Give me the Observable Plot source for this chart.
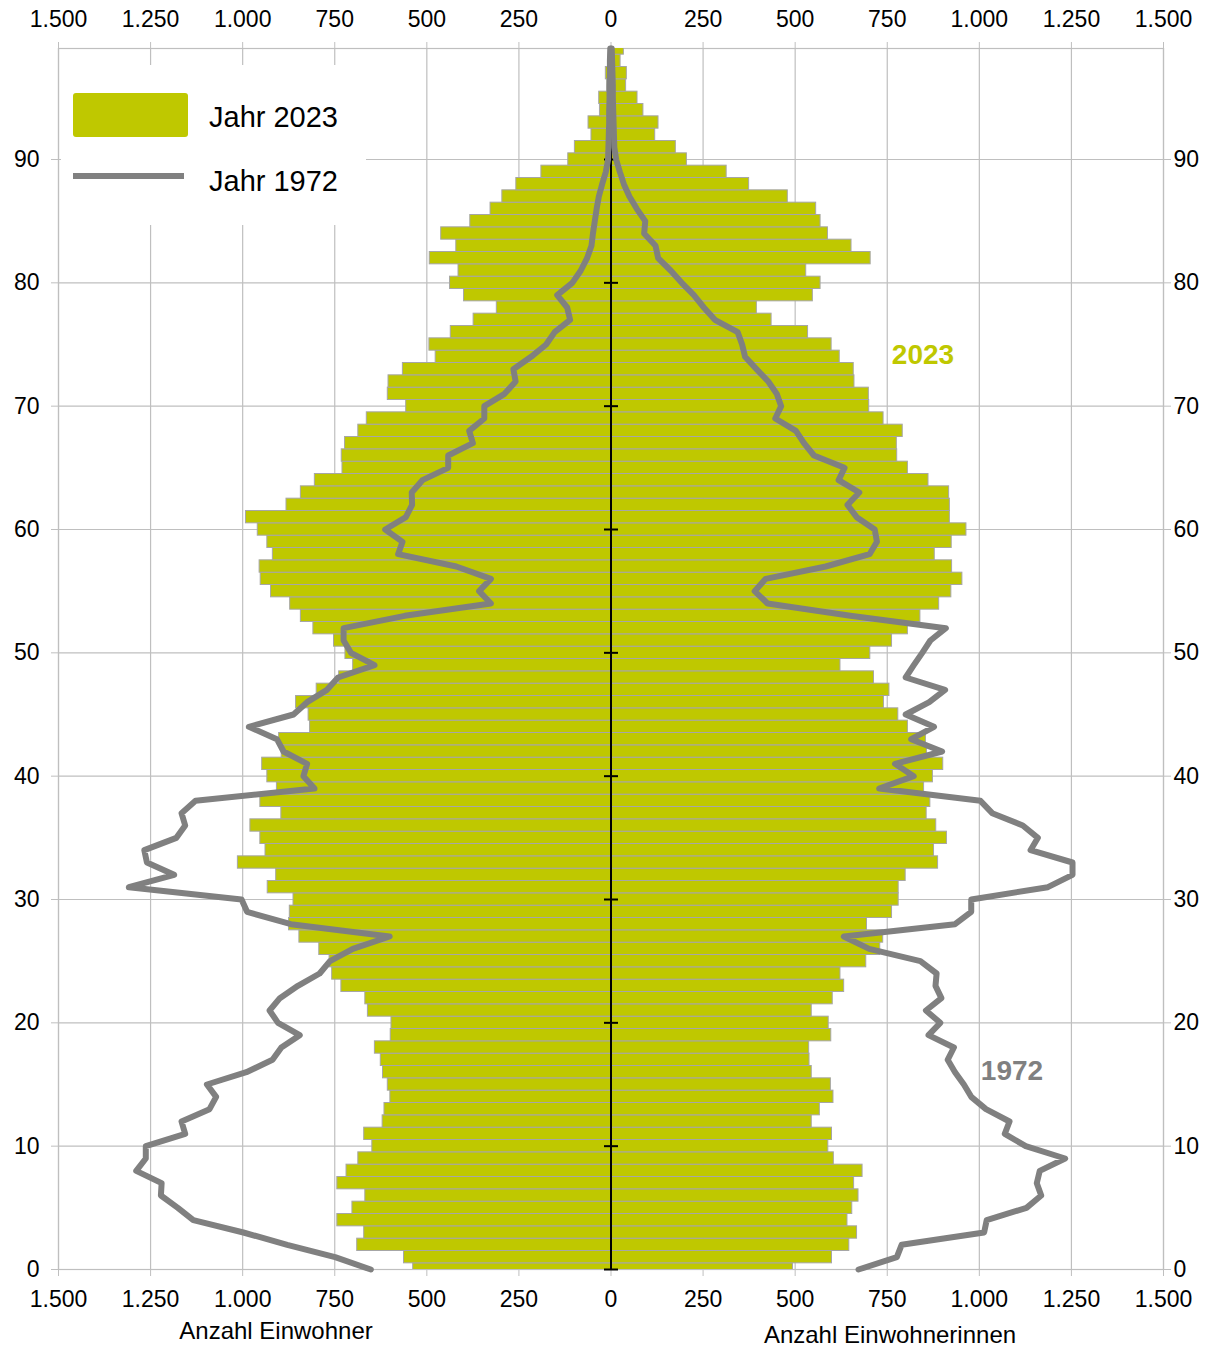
<!DOCTYPE html>
<html>
<head>
<meta charset="utf-8">
<script src="https://cdn.jsdelivr.net/npm/d3@7"></script>
<script src="https://cdn.jsdelivr.net/npm/@observablehq/plot@0.6"></script>
<style>
  body { margin: 0; background: #fff; }
  #chart { position: relative; width: 1224px; height: 1349px; font-family: "Liberation Sans", Arial, sans-serif; color: #000; }
  .legend { position: absolute; left: 61px; top: 65px; width: 305px; height: 160px; background: #fff; }
  .sw-bar { position: absolute; left: 12px; top: 28px; width: 115px; height: 44px; background: #bfc800; border-radius: 3px; }
  .sw-line { position: absolute; left: 12px; top: 108px; width: 111px; height: 6px; background: #808080; }
  .lg-text { position: absolute; left: 148px; font-size: 29px; line-height: 29px; }
  .title { position: absolute; font-size: 24px; white-space: nowrap; transform: translate(-50%, -50%); }
  .annot { position: absolute; font-size: 28px; font-weight: bold; white-space: nowrap; transform: translate(-50%, -50%); }
</style>
</head>
<body>
<div id="chart"></div>
<script>
// Ages 0..99
const ages = d3.range(0, 100);

// Männer 2023 (left side), ages 0..99
const men2023 = [537,562,689,670,743,702,667,743,718,686,
  648,670,620,615,599,606,619,625,641,598,
  596,660,667,732,757,764,792,846,874,872,
  862,932,909,1013,938,952,979,895,952,907,
  933,947,894,901,817,821,855,799,738,700,
  721,752,808,842,871,923,951,954,918,933,
  959,991,881,842,804,729,731,722,686,663,
  556,606,604,565,476,493,435,373,310,399,
  437,414,492,420,461,382,327,295,257,189,
  116,98,53,61,30,32,10,14,5,5];

// Frauen 2023 (right side), ages 0..99
const women2023 = [494,600,647,668,642,655,672,660,683,605,
  590,600,545,567,604,597,545,539,538,598,
  591,545,602,633,623,693,731,739,695,763,
  781,781,800,888,877,912,883,857,867,850,
  874,902,858,855,806,780,741,756,714,623,
  704,763,806,840,891,924,954,926,879,925,
  965,920,920,918,862,806,777,776,792,740,
  701,700,661,659,621,599,535,436,396,548,
  569,530,705,653,589,569,557,480,375,314,
  206,176,120,129,88,72,41,43,26,35];

// Männer 1972 (left line), ages 0..99
const men1972 = [652,749,879,998,1134,1176,1222,1220,1289,1263,
  1263,1156,1166,1090,1072,1097,990,919,895,845,
  904,927,899,850,791,763,701,601,869,988,
  1003,1309,1186,1260,1267,1180,1156,1166,1128,805,
  835,825,889,907,983,862,825,771,741,642,
  706,726,726,560,326,358,326,420,578,566,
  613,557,540,541,512,442,442,375,385,344,
  344,289,259,265,217,176,153,111,119,146,
  105,82,65,53,49,44,39,33,24,14,
  8,7,6,5,5,4,4,3,3,2];

// Frauen 1972 (right line), ages 0..99
const women1972 = [672,776,789,1013,1020,1128,1168,1156,1164,1233,
  1126,1069,1082,1018,978,958,934,914,931,862,
  894,855,897,881,884,840,701,632,934,978,
  978,1186,1253,1253,1139,1159,1118,1035,1003,728,
  822,771,899,815,877,800,864,907,800,822,
  845,867,909,650,425,390,420,583,702,722,
  716,667,642,674,618,634,551,524,502,446,
  462,450,427,395,364,356,344,282,252,225,
  192,162,128,121,90,93,70,50,35,24,
  14,9,8,7,6,5,5,4,3,2];

const xTicks = [-1500,-1250,-1000,-750,-500,-250,0,250,500,750,1000,1250,1500];
const yTicks = [0,10,20,30,40,50,60,70,80,90];

const seriesLabels = ["Jahr 2023", "Jahr 1972"];
const axisTitles = ["Anzahl Einwohner", "Anzahl Einwohnerinnen"];
const annotLabels = ["2023", "1972"];

const rows = ages.map((a, i) => ({age: a, m23: men2023[i], w23: women2023[i], m72: men1972[i], w72: women1972[i]}));

const de = d3.formatLocale({decimal: ",", thousands: ".", grouping: [3], currency: ["", " €"]});
const fmtAbs = v => de.format(",")(Math.abs(v));

const GREEN = "#bfc800";
const GREY = "#808080";
const GRID = "#bfbfbf";

const hTick = {
  draw(ctx, size) {
    const r = Math.sqrt(size / Math.PI);
    ctx.moveTo(-r, 0);
    ctx.lineTo(r, 0);
  }
};

const plot = Plot.plot({
  width: 1224,
  height: 1349,
  marginLeft: 58,
  marginRight: 61,
  marginTop: 48,
  marginBottom: 80,
  x: {domain: [-1500, 1500]},
  y: {domain: [0, 99]},
  style: {fontFamily: "'Liberation Sans', Arial, sans-serif", fontSize: "23px", color: "#000", background: "#fff", overflow: "visible"},
  marks: [
    Plot.ruleX(xTicks, {stroke: GRID, strokeWidth: 1.2}),
    Plot.ruleY(yTicks, {stroke: GRID, strokeWidth: 1.2}),
    Plot.frame({stroke: GRID, strokeWidth: 1.2}),
    Plot.axisX(xTicks, {anchor: "top", tickSize: 7, tickPadding: 15, stroke: GRID, fill: "#000", tickFormat: fmtAbs, label: null}),
    Plot.axisX(xTicks, {anchor: "bottom", tickSize: 7, tickPadding: 14, stroke: GRID, fill: "#000", tickFormat: fmtAbs, label: null}),
    Plot.axisY(yTicks, {anchor: "left", tickSize: 7, tickPadding: 12, stroke: GRID, fill: "#000", label: null}),
    Plot.axisY(yTicks, {anchor: "right", tickSize: 7, tickPadding: 3, stroke: GRID, fill: "#000", label: null}),
    Plot.rect(rows, {x1: d => -d.m23, x2: 0, y1: d => d.age - 0.5, y2: d => d.age + 0.5, fill: GREEN, stroke: "#a6a6a6", strokeWidth: 1, clip: true}),
    Plot.rect(rows, {x1: 0, x2: d => d.w23, y1: d => d.age - 0.5, y2: d => d.age + 0.5, fill: GREEN, stroke: "#a6a6a6", strokeWidth: 1, clip: true}),
    Plot.ruleX([0], {stroke: "#000", strokeWidth: 2}),
    Plot.dot(yTicks, {x: 0, y: d => d, symbol: hTick, r: 7, stroke: "#000", strokeWidth: 2, fill: "none"}),
    Plot.line(rows, {x: d => -d.m72, y: "age", stroke: GREY, strokeWidth: 6, strokeLinejoin: "round"}),
    Plot.line(rows, {x: "w72", y: "age", stroke: GREY, strokeWidth: 6, strokeLinejoin: "round"})
  ]
});

const chart = document.getElementById("chart");
chart.appendChild(plot);

// Legend
const legend = document.createElement("div");
legend.className = "legend";
legend.innerHTML = `
  <div class="sw-bar"></div>
  <div class="lg-text" style="top:38px">${seriesLabels[0]}</div>
  <div class="sw-line"></div>
  <div class="lg-text" style="top:102px">${seriesLabels[1]}</div>`;
chart.appendChild(legend);

// Axis titles
const t1 = document.createElement("div");
t1.className = "title"; t1.style.left = "276px"; t1.style.top = "1331px"; t1.textContent = axisTitles[0];
chart.appendChild(t1);
const t2 = document.createElement("div");
t2.className = "title"; t2.style.left = "890px"; t2.style.top = "1335px"; t2.textContent = axisTitles[1];
chart.appendChild(t2);

// Series annotations
const a1 = document.createElement("div");
a1.className = "annot"; a1.style.left = "923px"; a1.style.top = "355px"; a1.style.color = GREEN; a1.textContent = annotLabels[0];
chart.appendChild(a1);
const a2 = document.createElement("div");
a2.className = "annot"; a2.style.left = "1012px"; a2.style.top = "1071px"; a2.style.color = GREY; a2.textContent = annotLabels[1];
chart.appendChild(a2);
</script>
</body>
</html>
